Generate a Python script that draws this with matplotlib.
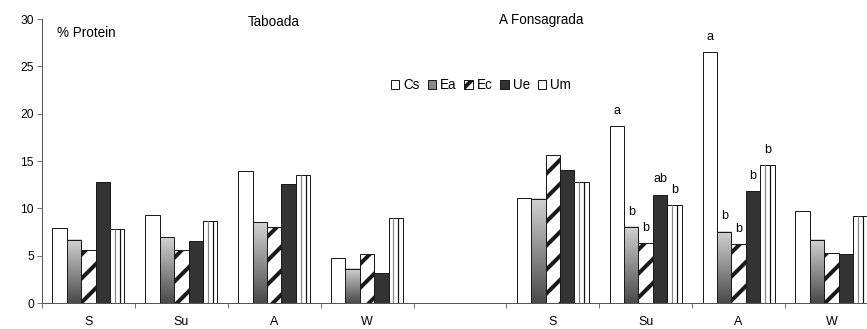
import numpy as np
import matplotlib
matplotlib.use("Agg")
import matplotlib.pyplot as plt
from matplotlib.patches import Patch
from matplotlib.colors import LinearSegmentedColormap

plt.rcParams['font.family'] = ['Liberation Sans', 'DejaVu Sans']
plt.rcParams['hatch.linewidth'] = 4.0

seasons = ['S', 'Su', 'A', 'W', '', 'S', 'Su', 'A', 'W']
species = ['Cs', 'Ea', 'Ec', 'Ue', 'Um']

# % protein per species, slots: Taboada S..W, gap, A Fonsagrada S..W
cs = [7.9, 9.25, 13.9, 4.75, np.nan, 11.1, 18.7, 26.5, 9.75]
ea = [6.7, 6.95, 8.55, 3.6, np.nan, 11.0, 8.05, 7.55, 6.7]
ec = [5.6, 5.6, 8.05, 5.15, np.nan, 15.6, 6.35, 6.25, 5.25]
ue = [12.8, 6.5, 12.55, 3.2, np.nan, 14.1, 11.45, 11.8, 5.15]
um = [7.8, 8.65, 13.55, 9.0, np.nan, 12.8, 10.35, 14.6, 9.15]

# significance letters (slot, species index, text)
letters = [(6, 0, 'a'), (6, 1, 'b'), (6, 2, 'b'), (6, 3, 'ab'), (6, 4, 'b'),
           (7, 0, 'a'), (7, 1, 'b'), (7, 2, 'b'), (7, 3, 'b'), (7, 4, 'b')]

values = [cs, ea, ec, ue, um]

W, H = 867, 329
fig = plt.figure(figsize=(W / 72, H / 72), dpi=72)
slot_px = 92.875
ax = fig.add_axes([42 / W, 26 / H, 9 * slot_px / W, 284 / H])

bw = 0.155
n = len(seasons)
centers = np.arange(n) + 0.5
edge = '#1a1a1a'
grad_cmap = LinearSegmentedColormap.from_list('g', ['#4a4a4a', '#d2d2d2'])
grad = np.linspace(1, 0, 100).reshape(-1, 1)

for j, vals in enumerate(values):
    xs = centers + (j - 2) * bw
    if j == 0:
        ax.bar(xs, vals, bw, color='white', edgecolor=edge, linewidth=1, zorder=3)
    elif j == 1:
        bars = ax.bar(xs, vals, bw, color='none', edgecolor=edge, linewidth=1, zorder=3)
        for b in bars:
            h = b.get_height()
            if np.isnan(h):
                continue
            x0 = b.get_x()
            ax.imshow(grad, extent=(x0, x0 + bw, 0, h), aspect='auto',
                      cmap=grad_cmap, zorder=2, interpolation='bilinear')
    elif j == 2:
        ax.bar(xs, vals, bw, color='white', edgecolor=edge, hatch='/', linewidth=1, zorder=3)
    elif j == 3:
        ax.bar(xs, vals, bw, color='#333333', edgecolor=edge, linewidth=1, zorder=3)
    else:
        ax.bar(xs, vals, bw, color='white', edgecolor=edge, linewidth=1, zorder=3)
        v = np.array(vals)
        ok = ~np.isnan(v)
        for f, c in [(0.33, '#888888'), (0.68, '#111111')]:
            ax.vlines(xs[ok] - bw / 2 + f * bw, 0, v[ok], colors=c, linewidth=1.2, zorder=4)

for slot, j, txt in letters:
    x = centers[slot] + (j - 2) * bw
    ax.text(x, values[j][slot] + 1.6, txt, ha='center', va='center', fontsize=12.5)

ax.set_xlim(0, n)
ax.set_ylim(0, 30)
ax.set_yticks(range(0, 31, 5))
ax.set_xticks(np.arange(n + 1))
ax.set_xticklabels([])
ax.set_xticks(centers, minor=True)
ax.set_xticklabels(seasons, minor=True)
ax.tick_params(axis='x', which='minor', length=0, pad=13, labelsize=12.5)
ax.tick_params(axis='x', which='major', length=5, direction='out', color='#555555')
ax.tick_params(axis='y', length=5, direction='out', color='#555555', labelsize=12, pad=3)
for s in ['top', 'right']:
    ax.spines[s].set_visible(False)
for s in ['left', 'bottom']:
    ax.spines[s].set_color('#555555')
    ax.spines[s].set_linewidth(1)

fig.text(57 / W, 1 - 33 / H, '% Protein', fontsize=13.5, va='center', ha='left')
fig.text(274 / W, 1 - 22 / H, 'Taboada', fontsize=13.5, va='center', ha='center')
fig.text(541 / W, 1 - 20 / H, 'A Fonsagrada', fontsize=13.5, va='center', ha='center')

handles = [
    Patch(facecolor='white', edgecolor=edge, linewidth=1),
    Patch(facecolor='#8a8a8a', edgecolor=edge, linewidth=1),
    Patch(facecolor='white', edgecolor=edge, hatch='/', linewidth=1),
    Patch(facecolor='#333333', edgecolor=edge, linewidth=1),
    Patch(facecolor='white', edgecolor=edge, linewidth=1),
]
fig.legend(handles, species, loc='center', bbox_to_anchor=(481 / W, 1 - 85 / H),
           ncol=5, frameon=False, fontsize=13.5, handlelength=0.6, handleheight=0.6,
           handletextpad=0.3, columnspacing=0.6, borderpad=0)

fig.savefig('out.png', dpi=72)
